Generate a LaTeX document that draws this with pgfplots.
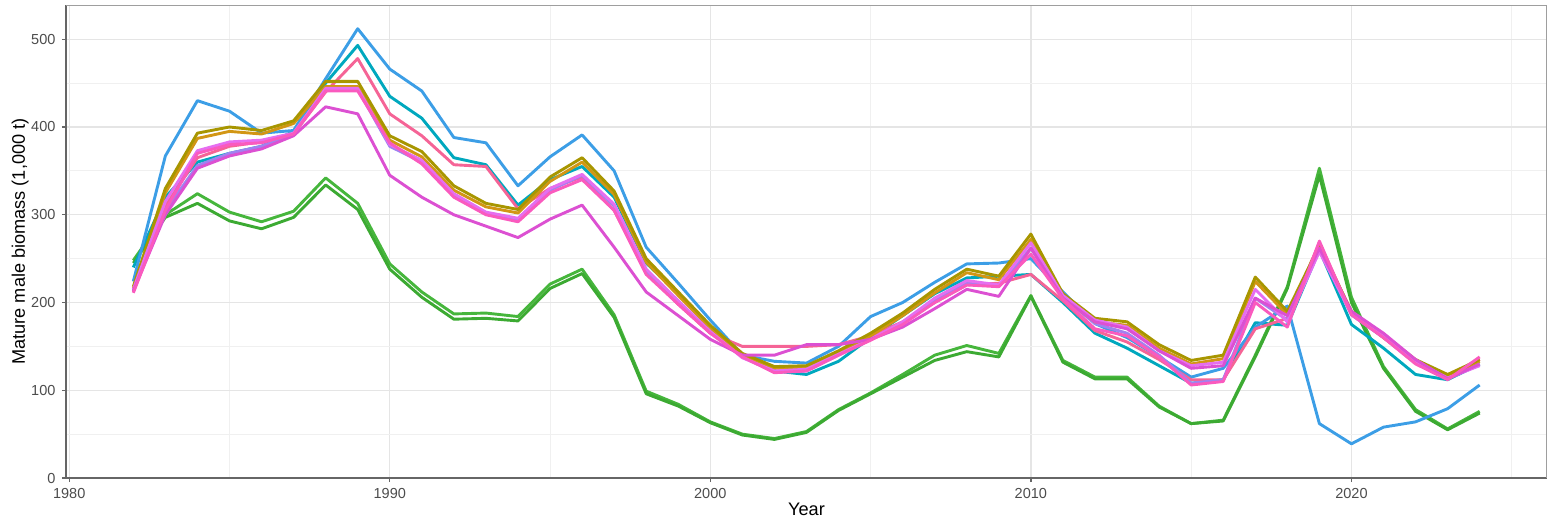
\documentclass[border=0pt]{standalone}
\usepackage{pgfplots}
\pgfplotsset{compat=1.18}
\usepackage{pgfplotstable}
\usepackage{fontspec}
\setmainfont{Liberation Sans}
\usetikzlibrary{calc}

\definecolor{cblue}{RGB}{60,158,230}
\definecolor{cteal}{RGB}{0,168,190}
\definecolor{cpinkC}{RGB}{245,100,150}
\definecolor{colive}{RGB}{168,150,0}
\definecolor{corange}{RGB}{210,150,20}
\definecolor{cmagF}{RGB}{220,80,210}
\definecolor{cviolG}{RGB}{230,110,240}
\definecolor{cpinkH}{RGB}{250,90,190}
\definecolor{cgrU}{RGB}{70,182,60}
\definecolor{cgrL}{RGB}{60,170,50}
\definecolor{cviolI}{RGB}{160,130,240}

\pgfplotstableread{
year blue teal pinkC olive orange magF violG pinkH grU grL violI
1982 224 240 212 218 216 213 215 211 248 245 214
1983 367 320 310 330 325 300 315 305 300 297 305
1984 430 360 365 393 387 353 373 370 324 313 356
1985 418 370 378 400 395 367 383 380 303 293 370
1986 393 378 383 396 392 375 385 382 292 284 378
1987 396 395 392 407 404 390 393 392 304 297 392
1988 455 450 440 452 446 423 444 441 342 334 443
1989 512 493 478 452 446 415 444 441 313 306 443
1990 466 435 415 390 385 345 380 382 244 238 378
1991 441 410 390 372 366 320 362 358 212 206 360
1992 388 365 357 333 328 300 324 320 187 181 322
1993 382 357 355 313 309 287 303 300 188 182 302
1994 333 311 307 306 302 274 296 292 184 179 294
1995 366 340 330 343 338 295 330 325 221 216 328
1996 391 355 343 365 360 311 346 340 238 233 345
1997 350 320 305 327 323 263 312 305 186 183 310
1998 263 245 235 250 246 212 238 232 99 96 236
1999 222 210 198 212 208 185 202 198 84 82 200
2000 180 170 165 174 171 158 167 165 64 63 166
2001 140 140 150 142 140 140 137 138 50 49 138
2002 133 122 150 127 125 140 122 120 45 44 121
2003 131 118 150 128 126 152 124 122 53 52 122
2004 150 133 152 145 143 152 141 140 78 77 140
2005 184 160 162 165 162 158 158 157 97 96 158
2006 200 185 178 188 185 172 178 175 118 115 176
2007 223 210 200 215 211 193 205 200 140 134 203
2008 244 228 220 238 234 215 225 220 151 144 222
2009 245 230 222 230 226 207 220 218 142 138 219
2010 250 232 232 278 272 262 268 255 208 207 262
2011 212 200 202 210 206 205 208 204 134 132 206
2012 176 165 168 182 178 178 180 170 115 113 176
2013 160 148 155 178 174 170 172 162 115 113 165
2014 138 128 135 152 148 145 145 138 82 81 140
2015 115 108 112 134 130 125 128 106 62 62 108
2016 125 112 112 140 136 128 132 110 66 65 112
2017 172 177 170 229 224 205 215 200 140 138 205
2018 196 174 182 190 186 185 178 172 218 216 180
2019 62 260 268 265 262 262 258 270 353 345 260
2020 39 175 188 190 188 190 187 186 206 200 186
2021 58 148 162 163 160 165 162 160 127 125 160
2022 64 118 132 135 132 135 133 130 78 76 131
2023 79 112 115 118 116 113 114 112 56 55 113
2024 106 130 135 135 133 130 128 138 76 74 129
}\data

\begin{document}
\begin{tikzpicture}
\begin{axis}[
  name=ax,
  scale only axis,
  width=28.68cm, height=9.16cm,
  xmin=1979.9, xmax=2026.1, ymin=0, ymax=539,
  xtick={1980,1990,2000,2010,2020},
  minor xtick={1985,1995,2005,2015,2025},
  ytick={0,100,200,300,400,500},
  minor ytick={50,150,250,350,450},
  grid=both,
  major grid style={color=black!10, line width=0.7pt},
  minor grid style={color=black!6, line width=0.5pt},
  axis x line*=bottom, axis y line*=left,
  axis line style={-, color=black!60, line width=0.8pt},
  tick align=outside,
  major tick length=0.08cm, minor tick length=0pt,
  tick style={color=black!60, line width=0.7pt},
  tick label style={font=\fontsize{8}{9}\selectfont, color=black!70},
  /pgf/number format/assume math mode=true,
  /pgf/number format/1000 sep={},
  xlabel={Year}, ylabel={Mature male biomass (1,000 t)},
  every axis x label/.style={at={(axis description cs:0.5,-0.066)}, anchor=center, font=\fontsize{10}{12}\selectfont},
  every axis y label/.style={at={(axis description cs:-0.031,0.5)}, rotate=90, anchor=center, font=\fontsize{10}{12}\selectfont},
  every axis plot/.append style={line width=1.6pt, line join=round},
  clip=true,
]
\draw[color=black!38, line width=0.8pt] (rel axis cs:0,1) -- (rel axis cs:1,1) -- (rel axis cs:1,0);
\addplot[cgrU] table[x=year, y=grU] {\data};
\addplot[cgrL] table[x=year, y=grL] {\data};
\addplot[cteal] table[x=year, y=teal] {\data};
\addplot[cblue] table[x=year, y=blue] {\data};
\addplot[cpinkC] table[x=year, y=pinkC] {\data};
\addplot[cviolI] table[x=year, y=violI] {\data};
\addplot[corange] table[x=year, y=orange] {\data};
\addplot[colive] table[x=year, y=olive] {\data};
\addplot[cviolG] table[x=year, y=violG] {\data};
\addplot[cmagF] table[x=year, y=magF] {\data};
\addplot[cpinkH] table[x=year, y=pinkH] {\data};
\end{axis}
\pgfresetboundingbox
\path ($(ax.south west)+(-1.278cm,-0.794cm)$) rectangle ($(ax.north east)+(0.039cm,0.097cm)$);
\end{tikzpicture}
\end{document}
